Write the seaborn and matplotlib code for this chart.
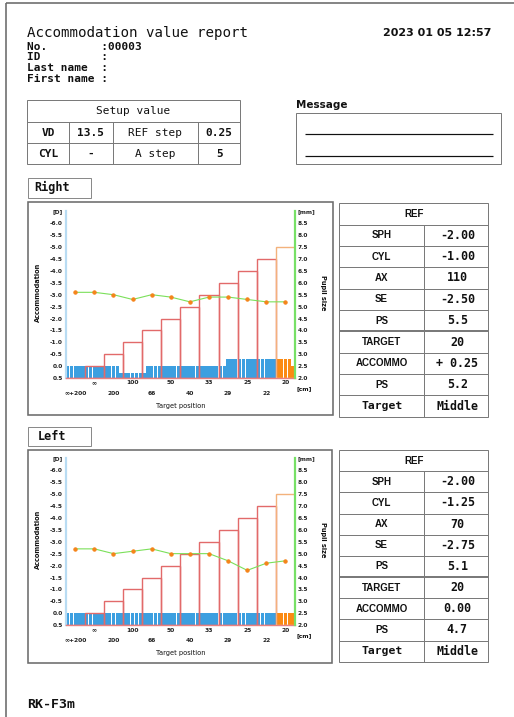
import numpy as np
import pandas as pd
import matplotlib
matplotlib.use("Agg")
import matplotlib.pyplot as plt
import seaborn as sns
from matplotlib.patches import Rectangle
from matplotlib.lines import Line2D

# ---------------- data ----------------
target_labels = ["∞+200", "∞", "200", "100", "66", "50", "40", "33", "29", "25", "22", "20"]
target_diopter = [0.5, 0.0, -0.5, -1.0, -1.5, -2.0, -2.5, -3.0, -3.5, -4.0, -4.5, -5.0]

# measured accommodation samples (5 per target position)
right_accommodation = [
    0.0, 0.0, 0.0, 0.0, 0.0,
    0.0, 0.0, 0.0, 0.0, 0.0,
    0.0, 0.0, 0.0, 0.0, 0.3,
    0.3, 0.3, 0.3, 0.3, 0.3,
    0.3, 0.0, 0.0, 0.0, 0.0,
    0.0, 0.0, 0.0, 0.0, 0.0,
    0.0, 0.0, 0.0, 0.0, 0.0,
    0.0, 0.0, 0.0, 0.0, 0.0,
    0.0, 0.0, -0.3, -0.3, -0.3,
    -0.3, -0.3, -0.3, -0.3, -0.3,
    -0.3, -0.3, -0.3, -0.3, -0.3,
    -0.3, -0.3, -0.3, -0.3, 0.0,
]
left_accommodation = [
    0.0, 0.0, 0.0, 0.0, 0.0,
    0.0, 0.0, 0.0, 0.0, 0.0,
    0.0, 0.0, 0.0, 0.0, 0.0,
    0.0, 0.0, 0.0, 0.0, 0.0,
    0.0, 0.0, 0.0, 0.0, 0.0,
    0.0, 0.0, 0.0, 0.0, 0.0,
    0.0, 0.0, 0.0, 0.0, 0.0,
    0.0, 0.0, 0.0, 0.0, 0.0,
    0.0, 0.0, 0.0, 0.0, 0.0,
    0.0, 0.0, 0.0, 0.0, 0.0,
    0.0, 0.0, 0.0, 0.0, 0.0,
    0.0, 0.0, 0.0, 0.0, 0.0,
]
right_pupil = [5.6, 5.6, 5.5, 5.3, 5.5, 5.4, 5.2, 5.4, 5.4, 5.3, 5.2, 5.2]
left_pupil = [5.2, 5.2, 5.0, 5.1, 5.2, 5.0, 5.0, 5.0, 4.7, 4.3, 4.6, 4.7]

acc_tick_values = [0.5, 0.0, -0.5, -1.0, -1.5, -2.0, -2.5, -3.0, -3.5, -4.0, -4.5, -5.0, -5.5, -6.0]
pupil_tick_values = [2.0, 2.5, 3.0, 3.5, 4.0, 4.5, 5.0, 5.5, 6.0, 6.5, 7.0, 7.5, 8.0, 8.5]

header_lines = ["No.        :00003", "ID         :", "Last name  :", "First name :"]
report_title = "Accommodation value report"
report_date = "2023 01 05 12:57"
setup_rows = [["VD", "13.5", "REF step", "0.25"], ["CYL", "-", "A step", "5"]]
ref_labels = ["SPH", "CYL", "AX", "SE", "PS", "TARGET", "ACCOMMO", "PS", "Target"]
right_ref_values = ["-2.00", "-1.00", "110", "-2.50", "5.5", "20", "+ 0.25", "5.2", "Middle"]
left_ref_values = ["-2.00", "-1.25", "70", "-2.75", "5.1", "20", "0.00", "4.7", "Middle"]

# ---------------- style ----------------
W, H = 514, 717
PX = 0.72  # points per pixel
MONO = "DejaVu Sans Mono"
SANS = "DejaVu Sans"
BLUE = "#3c9fe0"
ORANGE = "#fb8a12"
RED = "#e26a6a"
ORANGE_EDGE = "#f3b27c"
GREEN = "#7be05a"
MARK = "#f5841a"
GRID = "#7a7a7a"

sns.set_theme(style="white")
plt.rcParams["font.family"] = [SANS]

fig = plt.figure(figsize=(W / 100, H / 100), dpi=100)
bg = fig.add_axes([0, 0, 1, 1])
bg.set_xlim(0, W)
bg.set_ylim(H, 0)
bg.axis("off")


def line(x0, y0, x1, y1, color=GRID, lw=1.0):
    bg.add_line(Line2D([x0, x1], [y0, y1], color=color, lw=lw * PX, solid_capstyle="butt"))


def rect(x0, y0, x1, y1, color=GRID, lw=1.0):
    bg.add_patch(Rectangle((x0, y0), x1 - x0, y1 - y0, fill=False, edgecolor=color, lw=lw * PX))


def txt(x, y, s, size=8, ha="center", family=MONO, weight="bold", color="#111111", **kw):
    bg.text(x, y, s, fontsize=size, ha=ha, va="center", family=family, weight=weight, color=color, **kw)


# page border
line(6, 3.3, W, 3.3, color="#6a6a6a", lw=1.6)
line(6, 3.3, 6, H, color="#6a6a6a", lw=1.6)

# header
txt(27, 33.3, report_title, size=10.2, ha="left", weight="normal")
txt(491, 33.3, report_date, size=8, ha="right", family=SANS)
for i, s in enumerate(header_lines):
    txt(27, 46.7 + i * 10.8, s, size=8, ha="left")

# setup table
rect(27.3, 100, 240, 164.3)
line(27.3, 121.7, 240, 121.7)
line(27.3, 143.3, 240, 143.3)
col_x = [27.3, 69.3, 112.7, 198.3, 240]
for cx in col_x[1:-1]:
    line(cx, 121.7, cx, 164.3)
txt(133.6, 110.8, "Setup value", size=8, weight="normal")
for r, row in enumerate(setup_rows):
    cy = 132.5 + r * 21.3
    for c, s in enumerate(row):
        txt((col_x[c] + col_x[c + 1]) / 2, cy, s, size=8,
            weight="bold" if c % 2 == 1 or c == 0 else "normal")

# message box
txt(296, 104.5, "Message", size=7.5, ha="left", family=SANS)
rect(296, 113.3, 500.7, 164)
line(305, 134.3, 492.7, 134.3, color="#111111", lw=1.2)
line(305, 155.7, 492.7, 155.7, color="#111111", lw=1.2)


def ref_table(y0, y1, values):
    x0, xm, x1 = 339, 424.3, 488.3
    n = 10
    h = (y1 - y0) / n
    rect(x0, y0, x1, y1)
    for k in range(1, n):
        yy = y0 + k * h
        line(x0, yy, x1, yy, lw=2.0 if k == 6 else 1.0)
    line(xm, y0 + h, xm, y1)
    txt((x0 + x1) / 2, y0 + h / 2, "REF", size=7, family="Liberation Sans")
    for k, (lab, val) in enumerate(zip(ref_labels, values)):
        cy = y0 + (k + 1.5) * h
        if lab == "Target":
            txt((x0 + xm) / 2, cy, lab, size=8.2)
        else:
            txt((x0 + xm) / 2, cy, lab, size=7, family="Liberation Sans")
        txt((xm + x1) / 2 + 1, cy, val, size=8.4)


def chart(frame, axes_px, accommodation, pupil, label_box, label):
    fx0, fy0, fx1, fy1 = frame
    rect(fx0, fy0, fx1, fy1, color="#6c6c6c", lw=1.6)
    bx0, by0, bx1, by1 = label_box
    rect(bx0, by0, bx1, by1, color="#8a8a8a", lw=1.0)
    txt(bx0 + 24, (by0 + by1) / 2, label, size=8.5)

    x0, y0, x1, y1 = axes_px
    ax = fig.add_axes([x0 / W, 1 - y1 / H, (x1 - x0) / W, (y1 - y0) / H])
    n = len(accommodation)
    per = n // len(target_labels)
    n_orange = per
    base = acc_tick_values[0]
    df = pd.DataFrame({"pos": np.arange(n),
                       "h": [base - v for v in accommodation]})
    sns.barplot(data=df.iloc[: n - n_orange], x="pos", y="h", native_scale=True,
                width=0.9, color=BLUE, saturation=1, linewidth=0, errorbar=None, ax=ax)
    sns.barplot(data=df.iloc[n - n_orange:], x="pos", y="h", native_scale=True,
                width=0.9, color=ORANGE, saturation=1, linewidth=0, errorbar=None, ax=ax)

    centers = np.arange(len(target_labels)) * per + (per - 1) / 2
    heights = [base - t for t in target_diopter]
    edge = [RED] * (len(target_labels) - 1) + [ORANGE_EDGE]
    ax.bar(centers, heights, width=per, bottom=0, fill=False, edgecolor=edge,
           linewidth=1.0, zorder=4)

    ax.set_xlim(-0.5, n - 0.5)
    ax.set_ylim(0, 7)
    ax.set_xlabel("")
    ax.set_ylabel("")
    ypos = [base - v for v in acc_tick_values] + [7]
    ylab = [f"{v:.1f}" for v in acc_tick_values] + ["[D]"]
    ax.set_yticks(ypos, ylab, fontsize=4.2, fontweight="bold", color="#222222")
    odd = list(range(1, len(target_labels), 2))
    even = list(range(0, len(target_labels), 2))
    ax.set_xticks([centers[i] for i in odd], [target_labels[i] for i in odd],
                  fontsize=4.3, fontweight="bold", color="#222222")
    ax.set_xticks([centers[i] for i in even], [target_labels[i] for i in even], minor=True,
                  fontsize=4.3, fontweight="bold", color="#222222")
    ax.tick_params(axis="y", length=0, pad=2)
    ax.tick_params(axis="x", which="major", length=0, pad=1.6)
    ax.tick_params(axis="x", which="minor", length=0, pad=9.4)
    for s in ["top", "right"]:
        ax.spines[s].set_visible(False)
    ax.spines["left"].set_color("#b9dcf3")
    ax.spines["left"].set_linewidth(1.6)
    ax.spines["bottom"].set_color("#e88080")
    ax.spines["bottom"].set_linewidth(1.0)

    tw = ax.twinx()
    sns.lineplot(x=centers, y=pupil, ax=tw, color=GREEN, linewidth=0.8, marker="o",
                 markersize=2.4, markerfacecolor=MARK, markeredgecolor=MARK, zorder=5)
    tw.set_ylim(2, 9)
    tw.set_yticks(pupil_tick_values + [9.0],
                  [f"{v:.1f}" for v in pupil_tick_values] + ["[mm]"],
                  fontsize=4.2, fontweight="bold", color="#222222")
    tw.tick_params(axis="y", length=0, pad=2)
    tw.set_ylabel("")
    for s in ["top", "left", "bottom"]:
        tw.spines[s].set_visible(False)
    tw.spines["right"].set_color("#77e066")
    tw.spines["right"].set_linewidth(1.6)

    # axis titles
    txt(38.3, (y0 + y1) / 2 - 2, "Accommodation", size=4.8, family=SANS, rotation=90)
    txt(322.7, (y0 + y1) / 2 - 2, "Pupil size", size=4.8, family=SANS, rotation=270)
    txt((x0 + x1) / 2, y1 + 28, "Target position", size=4.8, family=SANS, weight="normal")
    txt(304, y1 + 10.5, "[cm]", size=4.3, family=SANS)


chart((28, 202, 333, 415), (65.7, 211.4, 295, 378), right_accommodation, right_pupil,
      (28, 178, 91, 197.5), "Right")
ref_table(203.3, 416.7, right_ref_values)

chart((28, 450, 332, 663), (65.7, 458.1, 295, 625.3), left_accommodation, left_pupil,
      (28, 426.5, 91, 446), "Left")
ref_table(450, 661.7, left_ref_values)

txt(27, 704, "RK-F3m", size=9.5, ha="left")

fig.savefig("out.png", dpi=100)
